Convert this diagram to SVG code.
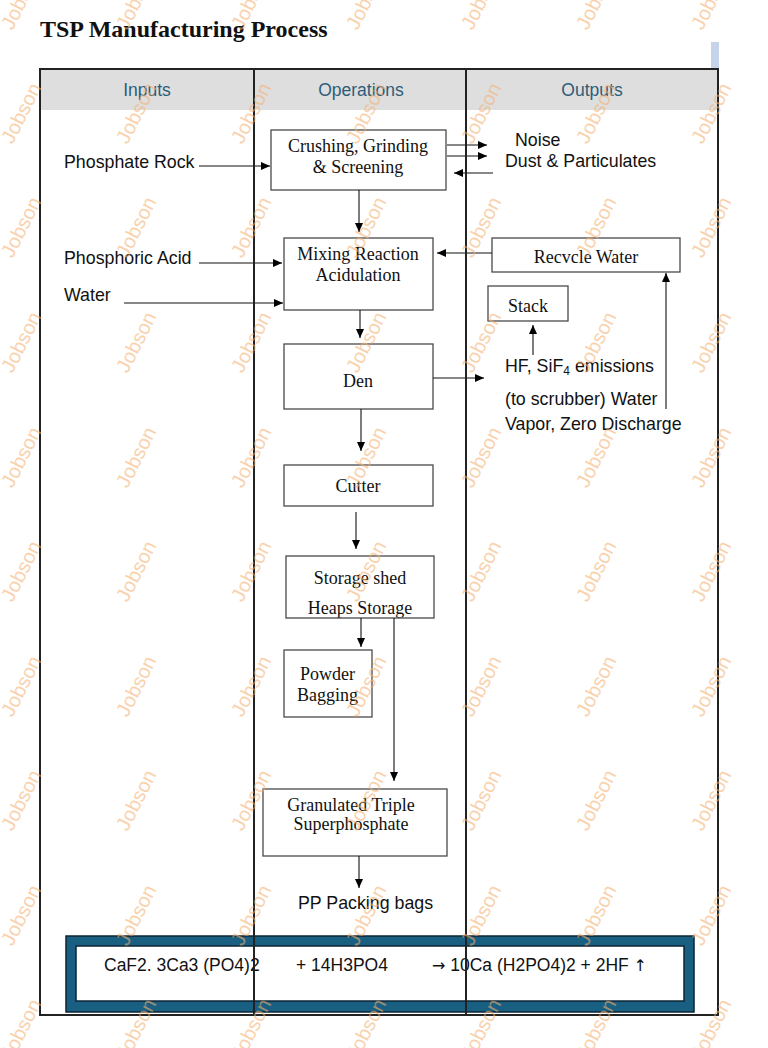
<svg xmlns="http://www.w3.org/2000/svg" width="768" height="1048" viewBox="0 0 768 1048">
<defs>
<marker id="ah" markerWidth="9" markerHeight="8" refX="9" refY="4" orient="auto" markerUnits="userSpaceOnUse"><path d="M0,0 L9,4 L0,8 z" fill="#000"/></marker>
<clipPath id="clipStorage"><rect x="286" y="556" width="148" height="61.5"/></clipPath>
<text id="wmt" class="wm" text-anchor="middle" dy="7" transform="rotate(-63)">Jobson</text>
</defs>
<style>
.box{fill:#fff;stroke:#4a4a4a;stroke-width:1.3}
.t{font-family:"Liberation Serif","Times New Roman",serif;font-size:18px;fill:#111;text-anchor:middle}
.s{font-family:"Liberation Sans",Arial,sans-serif;font-size:17.8px;fill:#111}
.e{font-family:"Liberation Sans",Arial,sans-serif;font-size:17.5px;fill:#111}
.ar{font-family:"DejaVu Sans",sans-serif;font-size:16px}
.h{font-family:"Liberation Sans",Arial,sans-serif;font-size:17.5px;fill:#2c5d7a;text-anchor:middle}
.c{stroke:#111;stroke-width:1.1;fill:none;marker-end:url(#ah)}
.tb{stroke:#222;stroke-width:2;fill:none}
.wm{font-family:"Liberation Sans",Arial,sans-serif;font-size:20px;fill:#f5b273;opacity:.58}
</style>
<rect x="0" y="0" width="768" height="1048" fill="#fff"/>
<text x="40" y="37" font-family="'Liberation Serif','Times New Roman',serif" font-size="24" font-weight="bold" fill="#111">TSP Manufacturing Process</text>
<rect x="711" y="42" width="8" height="26" fill="#c6d4ea"/>

<g id="table">
<rect x="40" y="69" width="678" height="41" fill="#dedede"/>
<rect class="tb" x="40" y="69" width="678" height="946"/>
<text class="h" x="147" y="96">Inputs</text>
<text class="h" x="361" y="96">Operations</text>
<text class="h" x="592" y="96">Outputs</text>
</g>

<g id="inputs">
<text class="s" x="64" y="168">Phosphate Rock</text>
<text class="s" x="64" y="264">Phosphoric Acid</text>
<text class="s" x="64" y="301">Water</text>
</g>

<g id="crushing"><rect class="box" x="271" y="130" width="175" height="60"/>
<text class="t" x="358" y="152">Crushing, Grinding</text><text class="t" x="358" y="173">&amp; Screening</text></g>
<g id="mixing"><rect class="box" x="284" y="238" width="149" height="72"/>
<text class="t" x="358" y="260">Mixing Reaction</text><text class="t" x="358" y="281">Acidulation</text></g>
<g id="den"><rect class="box" x="284" y="344" width="149" height="65"/>
<text class="t" x="358" y="387">Den</text></g>
<g id="cutter"><rect class="box" x="284" y="465" width="149" height="41"/>
<text class="t" x="358" y="492">Cutter</text></g>
<g id="storage"><rect class="box" x="286" y="556" width="148" height="62"/>
<text class="t" x="360" y="584">Storage shed</text>
<text class="t" x="360" y="614" clip-path="url(#clipStorage)">Heaps Storage</text></g>
<g id="powder"><rect class="box" x="284" y="650" width="88" height="67"/>
<text class="t" x="327.5" y="680">Powder</text><text class="t" x="327.5" y="701">Bagging</text></g>
<g id="granulated"><rect class="box" x="263" y="789" width="184" height="67"/>
<text class="t" x="351" y="811">Granulated Triple</text><text class="t" x="351" y="830">Superphosphate</text></g>
<g id="recycle"><rect class="box" x="492" y="238" width="188" height="34"/>
<text class="t" x="586" y="263">Recvcle Water</text></g>
<g id="stack"><rect class="box" x="488" y="286" width="80" height="35"/>
<text class="t" x="528" y="312">Stack</text></g>

<g id="outputs">
<text class="s" x="515" y="146">Noise</text>
<text class="s" x="505" y="167">Dust &amp; Particulates</text>
<text class="s" x="505" y="372">HF, SiF<tspan font-size="12" dy="3">4</tspan><tspan dy="-3"> emissions</tspan></text>
<text class="s" x="505" y="405">(to scrubber) Water</text>
<text class="s" x="505" y="430">Vapor, Zero Discharge</text>
<text class="s" x="298" y="909">PP Packing bags</text>
</g>

<g id="connectors">
<path class="c" d="M199,166 H270"/>
<path class="c" d="M447,145 H487"/>
<path class="c" d="M447,156 H487"/>
<path class="c" d="M493,173 H454"/>
<path class="c" d="M359,190 V232"/>
<path class="c" d="M199,263 H282"/>
<path class="c" d="M124,303 H283"/>
<path class="c" d="M492,253 H437"/>
<path class="c" d="M360,310 V338"/>
<path class="c" d="M433,378 H484"/>
<path class="c" d="M533,355 V325"/>
<path class="c" d="M666,409 V273"/>
<path class="c" d="M361,409 V451"/>
<path class="c" d="M356,512 V549"/>
<path class="c" d="M361,618 V647"/>
<path class="c" d="M394,618 V781"/>
<path class="c" d="M359,856 V888"/>
</g>

<g id="equation">
<rect x="66" y="936" width="628" height="76" fill="#185f81" stroke="#0d2433" stroke-width="1.5"/>
<rect x="76" y="946" width="608" height="55" fill="#fff" stroke="#0d2433" stroke-width="1.5"/>
<text class="e" x="104" y="971">CaF2. 3Ca3 (PO4)2</text>
<text class="e" x="296" y="971">+ 14H3PO4</text>
<text class="e" x="432" y="971"><tspan class="ar">→</tspan> 10Ca (H2PO4)2 + 2HF <tspan class="ar">↑</tspan></text>
</g>

<g id="dividers">
<path class="tb" d="M254,69 V1015 M466,69 V1015"/>
</g>

<g id="watermark">
<use href="#wmt" transform="translate(21,-1)"/>
<use href="#wmt" transform="translate(136,-1)"/>
<use href="#wmt" transform="translate(251,-1)"/>
<use href="#wmt" transform="translate(366,-1)"/>
<use href="#wmt" transform="translate(481,-1)"/>
<use href="#wmt" transform="translate(596,-1)"/>
<use href="#wmt" transform="translate(711,-1)"/>
<use href="#wmt" transform="translate(21,113)"/>
<use href="#wmt" transform="translate(136,113)"/>
<use href="#wmt" transform="translate(251,113)"/>
<use href="#wmt" transform="translate(366,113)"/>
<use href="#wmt" transform="translate(481,113)"/>
<use href="#wmt" transform="translate(596,113)"/>
<use href="#wmt" transform="translate(711,113)"/>
<use href="#wmt" transform="translate(21,227)"/>
<use href="#wmt" transform="translate(136,227)"/>
<use href="#wmt" transform="translate(251,227)"/>
<use href="#wmt" transform="translate(366,227)"/>
<use href="#wmt" transform="translate(481,227)"/>
<use href="#wmt" transform="translate(596,227)"/>
<use href="#wmt" transform="translate(711,227)"/>
<use href="#wmt" transform="translate(21,342)"/>
<use href="#wmt" transform="translate(136,342)"/>
<use href="#wmt" transform="translate(251,342)"/>
<use href="#wmt" transform="translate(366,342)"/>
<use href="#wmt" transform="translate(481,342)"/>
<use href="#wmt" transform="translate(596,342)"/>
<use href="#wmt" transform="translate(711,342)"/>
<use href="#wmt" transform="translate(21,457)"/>
<use href="#wmt" transform="translate(136,457)"/>
<use href="#wmt" transform="translate(251,457)"/>
<use href="#wmt" transform="translate(366,457)"/>
<use href="#wmt" transform="translate(481,457)"/>
<use href="#wmt" transform="translate(596,457)"/>
<use href="#wmt" transform="translate(711,457)"/>
<use href="#wmt" transform="translate(21,571)"/>
<use href="#wmt" transform="translate(136,571)"/>
<use href="#wmt" transform="translate(251,571)"/>
<use href="#wmt" transform="translate(366,571)"/>
<use href="#wmt" transform="translate(481,571)"/>
<use href="#wmt" transform="translate(596,571)"/>
<use href="#wmt" transform="translate(711,571)"/>
<use href="#wmt" transform="translate(21,686)"/>
<use href="#wmt" transform="translate(136,686)"/>
<use href="#wmt" transform="translate(251,686)"/>
<use href="#wmt" transform="translate(366,686)"/>
<use href="#wmt" transform="translate(481,686)"/>
<use href="#wmt" transform="translate(596,686)"/>
<use href="#wmt" transform="translate(711,686)"/>
<use href="#wmt" transform="translate(21,800)"/>
<use href="#wmt" transform="translate(136,800)"/>
<use href="#wmt" transform="translate(251,800)"/>
<use href="#wmt" transform="translate(366,800)"/>
<use href="#wmt" transform="translate(481,800)"/>
<use href="#wmt" transform="translate(596,800)"/>
<use href="#wmt" transform="translate(711,800)"/>
<use href="#wmt" transform="translate(21,915)"/>
<use href="#wmt" transform="translate(136,915)"/>
<use href="#wmt" transform="translate(251,915)"/>
<use href="#wmt" transform="translate(366,915)"/>
<use href="#wmt" transform="translate(481,915)"/>
<use href="#wmt" transform="translate(596,915)"/>
<use href="#wmt" transform="translate(711,915)"/>
<use href="#wmt" transform="translate(21,1029)"/>
<use href="#wmt" transform="translate(136,1029)"/>
<use href="#wmt" transform="translate(251,1029)"/>
<use href="#wmt" transform="translate(366,1029)"/>
<use href="#wmt" transform="translate(481,1029)"/>
<use href="#wmt" transform="translate(596,1029)"/>
<use href="#wmt" transform="translate(711,1029)"/>
</g>
</svg>
